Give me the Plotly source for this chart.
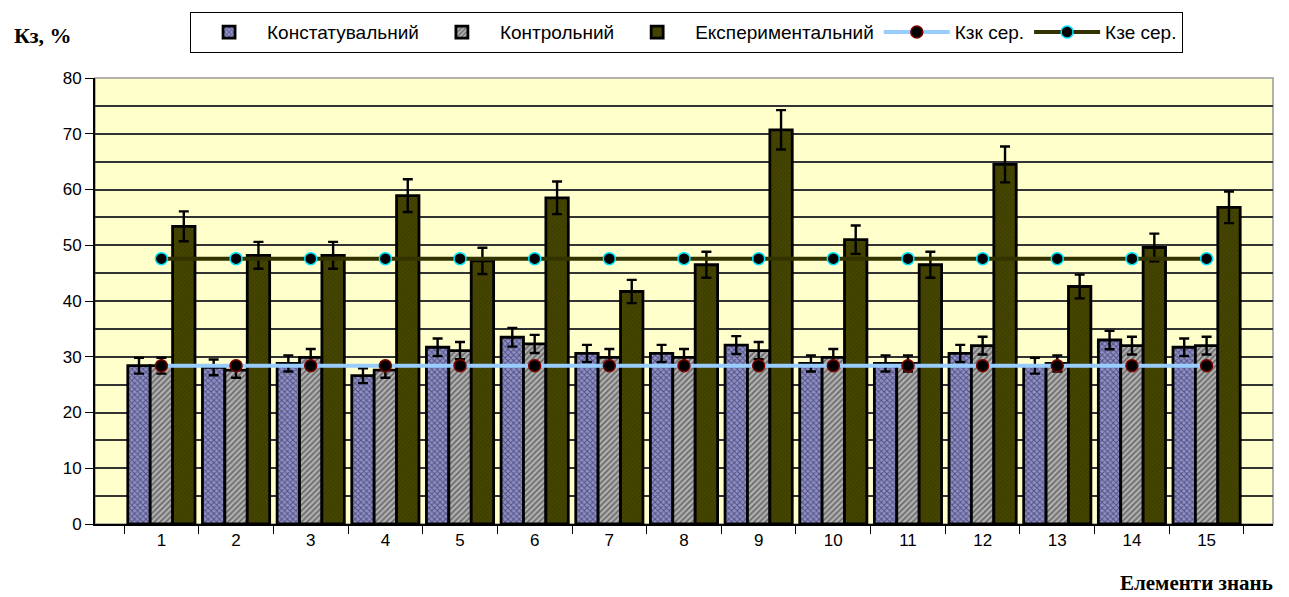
import plotly.graph_objects as go

categories = [str(i) for i in range(1, 16)]
konst = [28.4, 28.1, 28.8, 26.6, 31.7, 33.5, 30.6, 30.6, 32.1, 28.8, 28.8, 30.6, 28.4, 33.0, 31.7]
kontrol = [28.4, 27.6, 29.9, 27.6, 31.1, 32.3, 29.9, 29.9, 31.1, 29.9, 28.8, 32.0, 28.8, 32.0, 32.0]
eksper = [53.4, 48.2, 48.2, 58.9, 47.2, 58.5, 41.7, 46.5, 70.7, 51.0, 46.5, 64.5, 42.6, 49.6, 56.8]
kzk_avg = [28.4] * 15
kze_avg = [47.6] * 15
error_percent = 5
y_ticks = [0, 10, 20, 30, 40, 50, 60, 70, 80]

err = dict(type="percent", value=error_percent, color="black", thickness=2.4, width=5)

fig = go.Figure()
fig.add_trace(go.Bar(
    name="Констатувальний", x=categories, y=konst, error_y=err,
    marker=dict(color="#8686bc", line=dict(color="black", width=2.8),
                pattern=dict(shape="x", fgcolor="#101030", bgcolor="#9090c8", size=4, solidity=0.42)),
))
fig.add_trace(go.Bar(
    name="Контрольний", x=categories, y=kontrol, error_y=err,
    marker=dict(color="#9c9c9c", line=dict(color="black", width=2.8),
                pattern=dict(shape="/", fgcolor="#222222", bgcolor="#b2b2b2", size=4, solidity=0.45)),
))
fig.add_trace(go.Bar(
    name="Експериментальний", x=categories, y=eksper, error_y=err,
    marker=dict(color="#404000", line=dict(color="black", width=2.8),
                pattern=dict(shape="/", fgcolor="#2c2c00", bgcolor="#464600", size=3, solidity=0.3)),
))
fig.add_trace(go.Scatter(
    name="Кзк сер.", x=categories, y=kzk_avg, mode="lines+markers",
    line=dict(color="#99ccff", width=4),
    marker=dict(color="black", size=12, line=dict(color="#800000", width=1.5)),
))
fig.add_trace(go.Scatter(
    name="Кзе сер.", x=categories, y=kze_avg, mode="lines+markers",
    line=dict(color="#333300", width=4),
    marker=dict(color="black", size=12, line=dict(color="#00e5ff", width=1.5)),
))

fig.update_layout(
    width=1289, height=597,
    margin=dict(l=87, r=24, t=70, b=81, autoexpand=False),
    paper_bgcolor="white", plot_bgcolor="#ffffcc",
    barmode="group", bargap=0.1, bargroupgap=0.0,
    font=dict(family="Liberation Sans, Arial", size=17, color="black"),
    showlegend=True,
    legend=dict(orientation="h", x=0.502, xanchor="center", y=1.148, yanchor="top",
                bordercolor="black", borderwidth=1.2, bgcolor="white",
                font=dict(size=19), itemwidth=66, tracegroupgap=0),
    xaxis=dict(type="category", tickson="boundaries", ticks="outside", ticklen=8,
               tickcolor="black", showline=True, linecolor="black", linewidth=2,
               showgrid=False, tickfont=dict(size=17)),
    yaxis=dict(range=[0, 80], tickvals=y_ticks, ticks="outside", ticklen=8,
               tickcolor="black", showline=True, linecolor="black", linewidth=2,
               showgrid=True, gridcolor="#333333", gridwidth=1.5,
               minor=dict(dtick=5, showgrid=True, gridcolor="#333333", gridwidth=1.5),
               tickfont=dict(size=17), zeroline=False),
)

fig.add_shape(type="rect", xref="paper", yref="paper", x0=0, x1=1, y0=0, y1=1,
              line=dict(color="#999999", width=1.5), layer="below")

fig.add_annotation(text="<b>Кз, %</b>", xref="paper", yref="paper",
                   x=-0.0705, y=1.096, xanchor="left", yanchor="middle", showarrow=False,
                   font=dict(family="Liberation Serif, Times New Roman", size=22, color="black"))
fig.add_annotation(text="<b>Елементи знань</b>", xref="paper", yref="paper",
                   x=1.002, y=-0.133, xanchor="right", yanchor="middle", showarrow=False,
                   font=dict(family="Liberation Serif, Times New Roman", size=21, color="black"))

fig.write_html("out.html")
